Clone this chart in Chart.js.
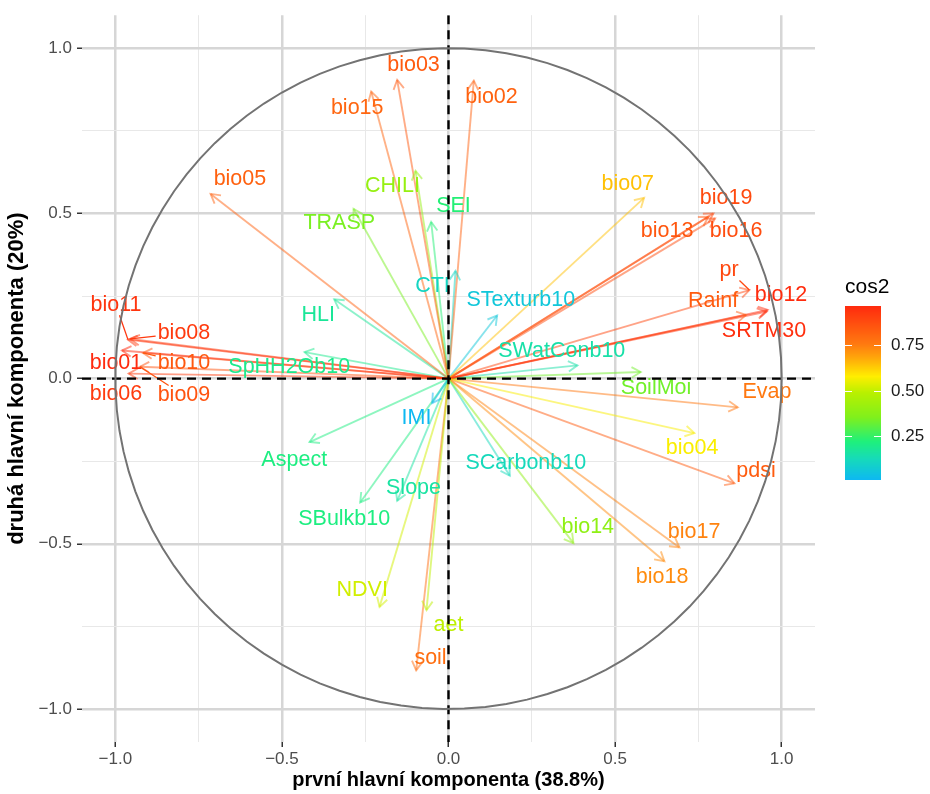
<!DOCTYPE html>
<html>
<head>
<meta charset="utf-8">
<script src="https://cdn.jsdelivr.net/npm/chart.js@4.4.1/dist/chart.umd.min.js"></script>
<style>
  html, body { margin: 0; padding: 0; background: #ffffff; }
  canvas { display: block; }
</style>
</head>
<body>
<canvas id="pca" width="930" height="794"></canvas>
<script>
// Variable names and their coordinates on the first two principal components
const variables = ['bio01','bio02','bio03','bio04','bio05','bio06','bio07','bio08','bio09','bio10',
  'bio11','bio12','bio13','bio14','bio15','bio16','bio17','bio18','bio19','pr',
  'Rainf','SRTM30','Evap','pdsi','SoilMoi','SWatConb10','STexturb10','SCarbonb10','CTI','SEI',
  'CHILI','TRASP','HLI','SpHH2Ob10','IMI','Aspect','Slope','SBulkb10','NDVI','aet','soil'];

const dim1 = [-0.980, 0.076, -0.154, 0.738, -0.714, -0.960, 0.587, -0.955, -0.926, -0.917,
  -0.962, 0.958, 0.780, 0.375, -0.232, 0.800, 0.693, 0.648, 0.795, 0.903,
  0.893, 0.955, 0.868, 0.858, 0.577, 0.387, 0.146, 0.184, 0.021, -0.052,
  -0.099, -0.285, -0.343, -0.432, -0.049, -0.417, -0.154, -0.265, -0.207, -0.066, -0.097];

const dim2 = [0.085, 0.902, 0.904, -0.165, 0.559, 0.015, 0.547, 0.120, 0.036, 0.078,
  0.118, 0.208, 0.490, -0.498, 0.869, 0.485, -0.511, -0.553, 0.500, 0.268,
  0.193, 0.203, -0.087, -0.317, 0.020, 0.040, 0.191, -0.294, 0.326, 0.474,
  0.629, 0.514, 0.240, 0.080, -0.074, -0.192, -0.370, -0.375, -0.691, -0.701, -0.883];

// Where each (repelled) name label sits, in component units
const labelX = [-0.998, 0.129, -0.105, 0.731, -0.626, -0.998, 0.538, -0.794, -0.794, -0.794,
  -0.998, 0.998, 0.656, 0.418, -0.274, 0.863, 0.737, 0.641, 0.833, 0.842,
  0.794, 0.947, 0.956, 0.923, 0.623, 0.340, 0.217, 0.232, -0.048, 0.015,
  -0.168, -0.328, -0.391, -0.478, -0.096, -0.463, -0.105, -0.313, -0.259, 0.000, -0.054];

const labelY = [0.048, 0.853, 0.949, -0.210, 0.604, -0.048, 0.589, 0.138, -0.051, 0.048,
  0.222, 0.252, 0.447, -0.450, 0.820, 0.447, -0.465, -0.600, 0.547, 0.327,
  0.234, 0.144, -0.042, -0.279, -0.030, 0.084, 0.237, -0.255, 0.279, 0.523,
  0.583, 0.471, 0.192, 0.036, -0.120, -0.246, -0.330, -0.426, -0.640, -0.745, -0.845];

// Labels pushed far enough from their arrow to need a connector
const leaderLines = ['bio11', 'bio08', 'bio10', 'bio09', 'pr'];

const gridValues = [-1, -0.75, -0.5, -0.25, 0, 0.25, 0.5, 0.75, 1];
const majorValues = [-1, -0.5, 0, 0.5, 1];
const legendTicks = [0.25, 0.5, 0.75];

const xTitle = 'první hlavní komponenta (38.8%)';
const yTitle = 'druhá hlavní komponenta (20%)';
const legendTitle = 'cos2';

const FONT = "'Liberation Sans', Arial, Helvetica, sans-serif";

// Quality of representation on the plane: squared cosine
const cos2 = variables.map((_, i) => dim1[i] * dim1[i] + dim2[i] * dim2[i]);
const cMin = Math.min(...cos2);
const cMax = Math.max(...cos2);

// Colour ramp for cos2 (position along the min..max range)
const ramp = [
  [0.00, [13, 184, 242]],
  [0.12, [22, 218, 186]],
  [0.22, [30, 240, 124]],
  [0.36, [128, 240, 28]],
  [0.50, [184, 240, 0]],
  [0.595, [255, 238, 0]],
  [0.70, [255, 168, 10]],
  [0.78, [255, 122, 16]],
  [1.00, [255, 42, 14]]
];

function cosColor(v, alpha) {
  let t = (v - cMin) / (cMax - cMin);
  t = Math.max(0, Math.min(1, t));
  let k = 0;
  while (k < ramp.length - 2 && t > ramp[k + 1][0]) k++;
  const [t0, c0] = ramp[k];
  const [t1, c1] = ramp[k + 1];
  const f = (t - t0) / (t1 - t0);
  const c = c0.map((a, j) => Math.round(a + (c1[j] - a) * f));
  return `rgba(${c[0]},${c[1]},${c[2]},${alpha})`;
}

const isMajor = v => majorValues.some(m => Math.abs(m - v) < 1e-9);
const fmtTick = v => isMajor(v) ? (v < 0 ? '\u2212' : '') + Math.abs(v).toFixed(1) : '';

function gridOptions() {
  return {
    color: c => (c.tick && isMajor(c.tick.value)) ? '#d6d6d6' : '#e8e8e8',
    lineWidth: c => (c.tick && isMajor(c.tick.value)) ? 2.5 : 1,
    tickColor: c => (c.tick && isMajor(c.tick.value)) ? '#333333' : 'rgba(0,0,0,0)',
    tickWidth: 1.5,
    tickLength: 5,
    drawTicks: true,
    drawOnChartArea: true
  };
}

// One line dataset per variable: from the origin to its loading
const datasets = variables.map((name, i) => ({
  label: name,
  data: [{ x: 0, y: 0 }, { x: dim1[i], y: dim2[i] }],
  showLine: true,
  borderColor: cosColor(cos2[i], 0.5),
  borderWidth: 1.9,
  pointRadius: 0,
  pointHoverRadius: 0,
  fill: false
}));

// Arrowheads, names, zero axes and the correlation circle
const overlayPlugin = {
  id: 'pcaOverlay',
  afterDatasetsDraw(chart) {
    const { ctx, chartArea: ca } = chart;
    const sx = chart.scales.x, sy = chart.scales.y;
    ctx.save();
    ctx.beginPath();
    ctx.rect(ca.left, ca.top, ca.width, ca.height);
    ctx.clip();

    // open arrowheads at each loading
    chart.data.datasets.forEach((ds, i) => {
      const meta = chart.getDatasetMeta(i);
      const p0 = meta.data[0], p1 = meta.data[1];
      const ang = Math.atan2(p1.y - p0.y, p1.x - p0.x);
      const L = 10.5, A = Math.PI / 6;
      ctx.strokeStyle = ds.borderColor;
      ctx.lineWidth = ds.borderWidth;
      ctx.lineJoin = 'miter';
      ctx.beginPath();
      ctx.moveTo(p1.x - L * Math.cos(ang - A), p1.y - L * Math.sin(ang - A));
      ctx.lineTo(p1.x, p1.y);
      ctx.lineTo(p1.x - L * Math.cos(ang + A), p1.y - L * Math.sin(ang + A));
      ctx.stroke();
    });

    // variable names
    ctx.font = `21.5px ${FONT}`;
    ctx.textAlign = 'center';
    ctx.textBaseline = 'middle';
    variables.forEach((name, i) => {
      const lx = sx.getPixelForValue(labelX[i]);
      const ly = sy.getPixelForValue(labelY[i]);
      const col = cosColor(cos2[i], 1);
      if (leaderLines.includes(name)) {
        const tx = sx.getPixelForValue(dim1[i]);
        const ty = sy.getPixelForValue(dim2[i]);
        const w = ctx.measureText(name).width + 4, h = 20;
        const dx = tx - lx, dy = ty - ly;
        const s = Math.min(dx ? (w / 2) / Math.abs(dx) : Infinity, dy ? (h / 2) / Math.abs(dy) : Infinity);
        if (s < 1) {
          ctx.strokeStyle = col;
          ctx.lineWidth = 1.3;
          ctx.beginPath();
          ctx.moveTo(lx + dx * s, ly + dy * s);
          ctx.lineTo(tx, ty);
          ctx.stroke();
        }
      }
      ctx.fillStyle = col;
      ctx.fillText(name, lx, ly);
    });

    // dashed zero lines
    const x0 = sx.getPixelForValue(0), y0 = sy.getPixelForValue(0);
    ctx.strokeStyle = '#000000';
    ctx.lineWidth = 2.4;
    ctx.setLineDash([9, 6]);
    ctx.beginPath();
    ctx.moveTo(x0, ca.top); ctx.lineTo(x0, ca.bottom);
    ctx.moveTo(ca.left, y0); ctx.lineTo(ca.right, y0);
    ctx.stroke();
    ctx.setLineDash([]);

    // unit correlation circle
    ctx.strokeStyle = '#737373';
    ctx.lineWidth = 2;
    ctx.beginPath();
    const N = 100;
    for (let k = 0; k < N; k++) {
      const a = 2 * Math.PI * k / (N - 1);
      const px = sx.getPixelForValue(Math.cos(a));
      const py = sy.getPixelForValue(Math.sin(a));
      if (k === 0) ctx.moveTo(px, py); else ctx.lineTo(px, py);
    }
    ctx.stroke();
    ctx.restore();
  },

  // continuous colour bar for cos2
  afterDraw(chart) {
    const { ctx, chartArea: ca } = chart;
    const barL = ca.right + 30, barW = 36, barTop = 306, barBot = 480;
    const toY = v => barBot - (v - cMin) / (cMax - cMin) * (barBot - barTop);
    ctx.save();
    for (let yy = barTop; yy < barBot; yy++) {
      const v = cMin + (barBot - yy - 0.5) / (barBot - barTop) * (cMax - cMin);
      ctx.fillStyle = cosColor(v, 1);
      ctx.fillRect(barL, yy, barW, 1);
    }
    ctx.strokeStyle = '#ffffff';
    ctx.lineWidth = 1.2;
    ctx.font = `17px ${FONT}`;
    ctx.fillStyle = '#1a1a1a';
    ctx.textAlign = 'left';
    ctx.textBaseline = 'middle';
    legendTicks.forEach(v => {
      const y = Math.round(toY(v)) + 0.5;
      ctx.beginPath();
      ctx.moveTo(barL, y); ctx.lineTo(barL + 7, y);
      ctx.moveTo(barL + barW - 7, y); ctx.lineTo(barL + barW, y);
      ctx.stroke();
      ctx.fillText(v.toFixed(2), barL + barW + 10, y);
    });
    ctx.font = `21px ${FONT}`;
    ctx.fillStyle = '#000000';
    ctx.fillText(legendTitle, barL, 287);
    ctx.restore();
  }
};

new Chart(document.getElementById('pca'), {
  type: 'scatter',
  data: { datasets },
  options: {
    responsive: false,
    animation: false,
    events: [],
    layout: { padding: { left: 0, right: 115, top: 8, bottom: 0 } },
    plugins: { legend: { display: false }, tooltip: { enabled: false } },
    scales: {
      x: {
        type: 'linear', min: -1.1, max: 1.1,
        afterBuildTicks: s => { s.ticks = gridValues.map(v => ({ value: v })); },
        afterFit: s => { s.height = 52; },
        border: { display: false },
        grid: gridOptions(),
        ticks: { callback: v => fmtTick(v), color: '#4d4d4d', font: { family: FONT, size: 17 }, padding: 2, maxRotation: 0, autoSkip: false },
        title: { display: true, text: xTitle, color: '#000000', font: { family: FONT, size: 20, weight: 'bold' }, padding: { top: 0, bottom: 2 } }
      },
      y: {
        type: 'linear', min: -1.1, max: 1.1,
        afterBuildTicks: s => { s.ticks = gridValues.map(v => ({ value: v })); },
        afterFit: s => { s.width = 82; },
        border: { display: false },
        grid: gridOptions(),
        ticks: { callback: v => fmtTick(v), color: '#4d4d4d', font: { family: FONT, size: 17 }, padding: 5, autoSkip: false },
        title: { display: true, text: yTitle, color: '#000000', font: { family: FONT, size: 22, weight: 'bold' }, padding: { top: 4, bottom: 0 } }
      }
    }
  },
  plugins: [overlayPlugin]
});
</script>
</body>
</html>
